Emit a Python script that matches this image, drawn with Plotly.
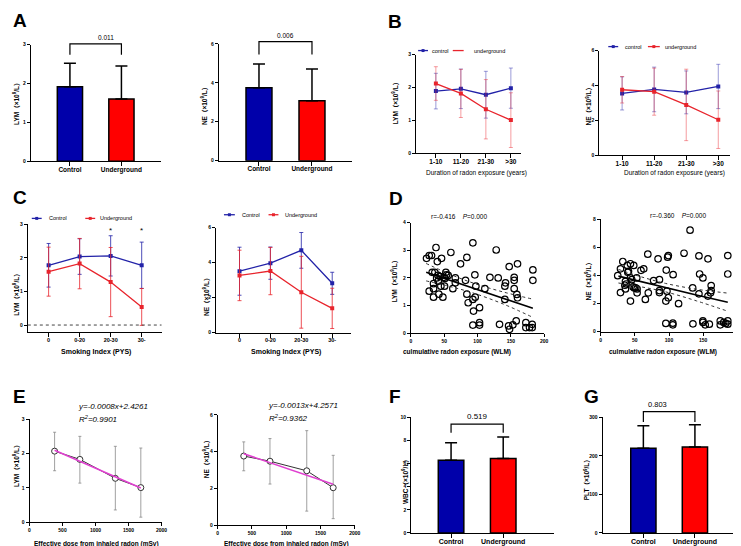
import numpy as np
import plotly.graph_objects as go

W, H = 741, 546
FONT = "Liberation Sans Narrow, Arial Narrow, Liberation Sans, Arial, Noto Sans CJK SC, sans-serif"
FONT_B = "Liberation Sans, Arial, sans-serif"

BAR_BLUE = "#0000AA"
BAR_RED = "#FF0000"
LN_BLUE = "#2222A8"
LN_RED = "#E8242C"
PINK = "#E040D0"

# ---------------- data ----------------
groups = ["Control", "Underground"]
a_lym_mean = [1.92, 1.60]
a_lym_sd = [0.60, 0.85]
a_lym_p = "0.011"
a_ne_mean = [3.75, 3.08]
a_ne_sd = [1.22, 1.63]
a_ne_p = "0.006"
f_wbc_mean = [6.30, 6.45]
f_wbc_sd = [1.50, 1.85]
f_wbc_p = "0.519"
g_plt_mean = [220, 223]
g_plt_sd = [58.5, 58.0]
g_plt_p = "0.803"

b_cats = ["1-10", "11-20", "21-30", ">30"]
b_lym_ctrl = [1.89, 1.96, 1.78, 1.98]
b_lym_ctrl_sd = [0.54, 0.60, 0.71, 0.61]
b_lym_ug = [2.12, 1.82, 1.34, 1.01]
b_lym_ug_sd = [0.51, 0.73, 0.90, 0.83]
b_ne_ctrl = [3.54, 3.77, 3.60, 3.94]
b_ne_ctrl_sd = [0.95, 1.28, 1.23, 1.27]
b_ne_ug = [3.75, 3.64, 2.88, 2.03]
b_ne_ug_sd = [0.76, 1.35, 2.05, 1.65]

c_cats = ["0", "0-20", "20-30", "30-"]
c_lym_ctrl = [1.78, 2.04, 2.06, 1.78]
c_lym_ctrl_sd = [0.65, 0.53, 0.60, 0.69]
c_lym_ug = [1.59, 1.83, 1.28, 0.54]
c_lym_ug_sd = [0.73, 0.75, 1.03, 0.55]
c_lym_sig = ["20-30", "30-"]
c_ne_ctrl = [3.51, 3.97, 4.70, 2.82]
c_ne_ctrl_sd = [1.37, 0.92, 1.02, 0.63]
c_ne_ug = [3.27, 3.52, 2.31, 1.39]
c_ne_ug_sd = [1.44, 1.35, 2.05, 1.15]
c_ne_sig = ["20-30"]

d_lym_x = [23.5, 27.5, 31, 37.7, 27.5, 34, 34, 34, 32, 36, 39.7, 46, 38.7, 41, 42, 45, 48,
           50.5, 49.5, 52.5, 53.5, 56, 60, 63, 66.7, 66.7, 74.5, 84, 82, 84, 86, 93, 93, 94,
           96.5, 96, 97.5, 93, 103, 103, 103, 111, 118.6, 128, 131, 133, 141, 142, 141,
           147.5, 146.6, 148, 153, 155, 155, 155, 158, 159, 160, 160, 172.5, 172.5, 178,
           182, 182, 183, 183, 40.7, 44, 51]
d_lym_y = [2.71, 2.81, 2.81, 3.10, 1.52, 1.30, 1.79, 1.61, 2.20, 2.20, 2.59, 2.71, 2.00,
           1.88, 1.41, 1.70, 1.30, 1.70, 2.02, 2.20, 2.11, 2.09, 2.92, 1.61, 2.00, 1.82,
           2.51, 2.74, 1.91, 1.41, 1.10, 3.27, 1.22, 0.80, 1.30, 2.11, 1.70, 0.29, 0.92,
           0.38, 0.29, 1.61, 2.02, 3.01, 2.00, 0.32, 1.22, 1.82, 1.70, 2.41, 0.26, 0.14,
           0.30, 2.02, 1.91, 1.61, 0.44, 1.40, 1.28, 2.51, 0.38, 0.20, 0.20, 0.20, 0.32,
           2.29, 1.91, 2.09, 2.05, 1.98]
d_lym_r = "r=-0.416"
d_lym_pv = "0.000"
d_lym_fit_x = [23, 60, 95, 140, 183]
d_lym_fit = [2.20, 1.90, 1.62, 1.26, 0.90]
d_lym_hi = [2.52, 2.12, 1.80, 1.48, 1.23]
d_lym_lo = [1.89, 1.68, 1.44, 1.04, 0.57]

d_ne_x = [25, 29, 29, 32.4, 36.3, 35.4, 37.3, 36.3, 39, 40.7, 39.7, 43.6, 43.6, 43.6, 45.5,
          47.5, 48.4, 49.4, 51.3, 53.3, 52.8, 53.3, 59, 63, 65.4, 69, 69.7, 77.5, 84, 86, 86,
          86, 96, 95.4, 97, 99, 98, 99, 95.4, 106, 105.6, 105.6, 114, 122, 130.8, 135,
          134.6, 143.8, 144.8, 149.6, 149.6, 153, 149.6, 143.8, 157, 157, 159, 160.8,
          161.7, 161.7, 175, 175, 180, 183, 186, 186, 186, 186]
d_ne_y = [3.99, 2.79, 4.48, 5.00, 3.05, 3.31, 3.40, 3.59, 4.72, 4.30, 4.23, 4.84, 2.18,
          3.83, 3.71, 3.19, 4.72, 3.12, 3.12, 3.05, 3.83, 2.77, 4.37, 4.48, 2.30, 5.52,
          2.77, 3.64, 5.19, 2.93, 2.79, 3.71, 4.39, 2.18, 2.89, 2.42, 5.31, 5.42, 0.59,
          4.06, 0.61, 0.49, 2.00, 5.59, 7.23, 0.56, 3.12, 5.40, 4.11, 3.83, 0.66, 0.49,
          0.77, 2.70, 5.19, 2.54, 0.54, 2.77, 3.29, 2.93, 0.77, 0.49, 0.66, 0.59, 5.42,
          4.11, 0.54, 0.77]
d_ne_r = "r=-0.360"
d_ne_pv = "0.000"
d_ne_fit_x = [26, 60, 95, 140, 186]
d_ne_fit = [3.96, 3.55, 3.14, 2.62, 2.10]
d_ne_hi = [4.44, 3.90, 3.44, 3.03, 2.75]
d_ne_lo = [3.47, 3.19, 2.84, 2.20, 1.46]

e_dose = [380, 763, 1300, 1686]
e_lym = [2.07, 1.83, 1.28, 1.01]
e_lym_up = [0.55, 0.67, 0.93, 1.15]
e_lym_dn = [0.57, 0.69, 0.92, 0.86]
e_lym_eq = "y=-0.0008x+2.4261"
e_lym_r2 = "0.9901"
e_ne = [3.76, 3.48, 2.96, 2.04]
e_ne_up = [0.77, 1.23, 2.18, 1.76]
e_ne_dn = [0.80, 1.24, 2.19, 1.68]
e_ne_eq = "y=-0.0013x+4.2571"
e_ne_r2 = "0.9362"

LYM_T = "LYM（×10<sup>9</sup>/L）"
NE_T = "NE（×10<sup>9</sup>/L）"

# ---------------- helpers ----------------
def xd(a, b):
    return [a / W, b / W]


def yd(top, bot):
    return [1 - bot / H, 1 - top / H]


def px(x):
    return x / W


def py(y):
    return 1 - y / H


layout = dict(width=W, height=H, margin=dict(l=0, r=0, t=0, b=0),
              paper_bgcolor="white", plot_bgcolor="white", showlegend=False,
              font=dict(family=FONT, color="black", size=6))
annotations = []
shapes = []
traces = []


def axis_common():
    return dict(showline=True, linecolor="black", linewidth=1, ticks="outside",
                ticklen=3, tickwidth=1, tickcolor="black", showgrid=False,
                zeroline=False, fixedrange=True)


def add_axes(i, xpx, ypx, xrange, yrange, ydtick, xcat=None, xdtick=None,
             xtickfont=6.5):
    xn = "xaxis" if i == 1 else f"xaxis{i}"
    yn = "yaxis" if i == 1 else f"yaxis{i}"
    xa = axis_common()
    xa.update(domain=xd(*xpx), range=xrange, anchor="y" if i == 1 else f"y{i}")
    if xcat is not None:
        xa.update(type="category", tickmode="array", tickvals=xcat, ticktext=xcat,
                  ticklen=4, ticklabelstandoff=-2,
                  tickfont=dict(size=xtickfont, family=FONT, weight="bold"))
    else:
        xa.update(dtick=xdtick, tick0=0,
                  tickfont=dict(size=5, family=FONT, weight="bold"))
    ya = axis_common()
    ya.update(domain=yd(*ypx), range=yrange, dtick=ydtick, tick0=0,
              anchor="x" if i == 1 else f"x{i}",
              tickfont=dict(size=5, family=FONT, weight="bold"))
    layout[xn] = xa
    layout[yn] = ya


def refs(i):
    return ("x" if i == 1 else f"x{i}"), ("y" if i == 1 else f"y{i}")


def to_paper(i, xv, yv):
    xa = layout["xaxis" if i == 1 else f"xaxis{i}"]
    ya = layout["yaxis" if i == 1 else f"yaxis{i}"]
    xf = (xv - xa["range"][0]) / (xa["range"][1] - xa["range"][0])
    yf = (yv - ya["range"][0]) / (ya["range"][1] - ya["range"][0])
    return (xa["domain"][0] + xf * (xa["domain"][1] - xa["domain"][0]),
            ya["domain"][0] + yf * (ya["domain"][1] - ya["domain"][0]))


def text(x, y, s, size=6, bold=False, italic=False, angle=0, xanchor="center",
         family=FONT):
    annotations.append(dict(x=px(x), y=py(y), xref="paper", yref="paper", text=s,
                            showarrow=False, textangle=angle, xanchor=xanchor,
                            yanchor="middle",
                            font=dict(size=size, family=family, color="black",
                                      weight="bold" if bold else "normal",
                                      style="italic" if italic else "normal")))


def bar_panel(i, means, sds, p, bracket_y, leg, p_size):
    xr, yr = refs(i)
    traces.append(go.Bar(x=groups, y=means, width=0.49, xaxis=xr, yaxis=yr,
                         marker=dict(color=[BAR_BLUE, BAR_RED],
                                     line=dict(color="black", width=1.5)),
                         error_y=dict(type="data", symmetric=False, array=sds,
                                      arrayminus=[0] * len(sds), color="black",
                                      thickness=1.5, width=6)))
    pts = [to_paper(i, 0, bracket_y - leg), to_paper(i, 0, bracket_y),
           to_paper(i, 1, bracket_y), to_paper(i, 1, bracket_y - leg)]
    path = "M " + " L ".join(f"{a:.5f},{b:.5f}" for a, b in pts)
    shapes.append(dict(type="path", xref="paper", yref="paper", path=path,
                       line=dict(color="black", width=1.2)))
    cx, cy = to_paper(i, 0.5, bracket_y)
    annotations.append(dict(x=cx, y=cy, xref="paper", yref="paper", text=p,
                            showarrow=False, yanchor="bottom", yshift=1,
                            font=dict(size=p_size, family=FONT_B, color="black")))


def line_panel(i, cats, ctrl, ctrl_sd, ug, ug_sd, err_alpha, sig=None, sig_y=None):
    xr, yr = refs(i)
    for vals, sd, col, rgb in [(ctrl, ctrl_sd, LN_BLUE, "34,34,168"),
                               (ug, ug_sd, LN_RED, "232,36,44")]:
        traces.append(go.Scatter(x=cats, y=vals, xaxis=xr, yaxis=yr, mode="lines+markers",
                                 line=dict(color=col, width=1.3),
                                 marker=dict(color=col, size=4, symbol="square"),
                                 error_y=dict(type="data", array=sd,
                                              color=f"rgba({rgb},{err_alpha})",
                                              thickness=1, width=2)))
    if sig:
        for c in sig:
            annotations.append(dict(x=c, y=sig_y, xref=xr, yref=yr, text="*",
                                    showarrow=False, font=dict(size=8, family=FONT_B)))


def legend_row(y, items, size=5.5):
    for (lx0, lx1, tx, label, col, marker) in items:
        shapes.append(dict(type="line", xref="paper", yref="paper", x0=px(lx0), x1=px(lx1),
                           y0=py(y), y1=py(y), line=dict(color=col, width=1.3)))
        if marker:
            m = (lx0 + lx1) / 2
            shapes.append(dict(type="rect", xref="paper", yref="paper",
                               x0=px(m - 1.5), x1=px(m + 1.5), y0=py(y + 1.5), y1=py(y - 1.5),
                               fillcolor=col, line=dict(width=0)))
        text(tx, y, label, size=size, xanchor="left")


# ---------------- panel A ----------------
add_axes(1, (22, 153), (34, 152), [-0.76, 1.76], [0, 3], 1, xcat=groups)
bar_panel(1, a_lym_mean, a_lym_sd, a_lym_p, 3.02, 0.28, 6.5)
add_axes(2, (211.7, 346), (33.3, 151.3), [-0.76, 1.75], [0, 6], 2, xcat=groups)
bar_panel(2, a_ne_mean, a_ne_sd, a_ne_p, 6.12, 0.66, 6.5)
text(7, 92, LYM_T, size=6.5, bold=True, angle=-90)
text(197, 95, NE_T, size=6.5, bold=True, angle=-90)

# ---------------- panel B ----------------
add_axes(3, (411, 517), (44, 144), [-0.79, 3.41], [0, 3], 1, xcat=b_cats, xtickfont=6.5)
line_panel(3, b_cats, b_lym_ctrl, b_lym_ctrl_sd, b_lym_ug, b_lym_ug_sd, 0.45)
add_axes(4, (596, 728), (40, 145.7), [-0.71, 3.37], [0, 6], 2, xcat=b_cats, xtickfont=6.5)
line_panel(4, b_cats, b_ne_ctrl, b_ne_ctrl_sd, b_ne_ug, b_ne_ug_sd, 0.45)
text(390, 92, LYM_T, size=6.5, bold=True, angle=-90)
text(585, 95, NE_T, size=6.5, bold=True, angle=-90)
text(472, 164, "Duration of radon exposure (years)", size=6.5)
text(672, 164, "Duration of radon exposure (years)", size=6.5)
legend_row(40, [(413, 423, 425, "control", LN_BLUE, True),
                (448, 459, 467, "underground", LN_RED, False)])
legend_row(36, [(605, 615, 620, "control", LN_BLUE, True),
                (645, 657, 660, "underground", LN_RED, True)])

# ---------------- panel C ----------------
add_axes(5, (19, 154), (215.7, 325), [-0.67, 3.64], [-0.22, 3], 1, xcat=c_cats, xtickfont=5.5)
shapes.append(dict(type="line", xref="x5 domain", yref="y5", x0=0, x1=1, y0=0, y1=0,
                   line=dict(color="#444", width=1, dash="dot")))
line_panel(5, c_cats, c_lym_ctrl, c_lym_ctrl_sd, c_lym_ug, c_lym_ug_sd, 0.8,
           sig=c_lym_sig, sig_y=2.82)
add_axes(6, (209, 345), (219, 325.3), [-0.76, 3.6], [0, 6], 2, xcat=c_cats, xtickfont=5.5)
line_panel(6, c_cats, c_ne_ctrl, c_ne_ctrl_sd, c_ne_ug, c_ne_ug_sd, 0.8,
           sig=c_ne_sig, sig_y=6.05)
text(7, 285, LYM_T, size=6.5, bold=True, angle=-90)
text(199, 288, NE_T, size=6.5, bold=True, angle=-90)
text(87.5, 345, "Smoking Index (PYS)", size=7, bold=True)
text(280, 345, "Smoking Index (PYS)", size=7, bold=True)
legend_row(209.7, [(23, 33, 38, "Control", LN_BLUE, True),
                   (77, 87, 90, "Underground", LN_RED, True)])
legend_row(206, [(217, 228, 233, "Control", LN_BLUE, True),
                 (262, 272, 277, "Underground", LN_RED, True)])

# ---------------- panel D ----------------
def scatter_panel(i, xs, ys, fx, fy, hi, lo):
    xr, yr = refs(i)
    traces.append(go.Scatter(x=xs, y=ys, xaxis=xr, yaxis=yr, mode="markers",
                             marker=dict(symbol="circle-open", size=6.5, color="black",
                                         line=dict(width=1.2, color="black"))))
    traces.append(go.Scatter(x=fx, y=fy, xaxis=xr, yaxis=yr, mode="lines",
                             line=dict(color="black", width=1.6)))
    for band in (hi, lo):
        traces.append(go.Scatter(x=fx, y=band, xaxis=xr, yaxis=yr, mode="lines",
                                 line=dict(color="#333", width=1, dash="dot",
                                           shape="spline")))


add_axes(7, (405.7, 540.3), (214, 325.7), [0, 200], [0, 4], 1, xdtick=50)
scatter_panel(7, d_lym_x, d_lym_y, d_lym_fit_x, d_lym_fit, d_lym_hi, d_lym_lo)
add_axes(8, (597.3, 735.3), (210.7, 324.3), [0, 200], [0, 8], 2, xdtick=50)
scatter_panel(8, d_ne_x, d_ne_y, d_ne_fit_x, d_ne_fit, d_ne_hi, d_ne_lo)
text(389, 272, LYM_T, size=6.5, bold=True, angle=-90)
text(585, 272, NE_T, size=6.5, bold=True, angle=-90)
text(454, 208, f"{d_lym_r}&nbsp;&nbsp;&nbsp;&nbsp;<i>P</i>={d_lym_pv}", size=6.5)
text(675, 207, f"{d_ne_r}&nbsp;&nbsp;&nbsp;&nbsp;<i>P</i>={d_ne_pv}", size=6.5)
text(452, 345, "culmulative radon exposure (WLM)", size=6.5, bold=True)
text(660, 345, "culmulative radon exposure (WLM)", size=6.5, bold=True)

# ---------------- panel E ----------------
def dose_panel(i, xs, ys, up, dn):
    xr, yr = refs(i)
    slope, icpt = np.polyfit(xs, ys, 1)
    xx = [min(xs), max(xs)]
    traces.append(go.Scatter(x=xs, y=ys, xaxis=xr, yaxis=yr, mode="lines+markers",
                             line=dict(color="#333", width=1),
                             marker=dict(symbol="circle", size=6, color="white",
                                         line=dict(color="#333", width=1)),
                             error_y=dict(type="data", symmetric=False, array=up,
                                          arrayminus=dn, color="#888", thickness=0.8,
                                          width=1.5)))
    traces.append(go.Scatter(x=xx, y=[slope * v + icpt for v in xx], xaxis=xr, yaxis=yr,
                             mode="lines", line=dict(color=PINK, width=1.5)))


add_axes(9, (20.7, 154), (412.7, 517), [0, 2000], [0, 3], 1, xdtick=500)
dose_panel(9, e_dose, e_lym, e_lym_up, e_lym_dn)
add_axes(10, (210.7, 349), (408.3, 520), [0, 2000], [0, 6], 2, xdtick=500)
dose_panel(10, e_dose, e_ne, e_ne_up, e_ne_dn)
text(7, 458, LYM_T, size=6.5, bold=True, angle=-90)
text(199, 452, NE_T, size=6.5, bold=True, angle=-90)
text(68, 400, e_lym_eq, size=8, italic=True, xanchor="left")
text(69, 413, f"R<sup>2</sup>={e_lym_r2}", size=8, italic=True, xanchor="left")
text(259, 399, e_ne_eq, size=8, italic=True, xanchor="left")
text(260, 412, f"R<sup>2</sup>={e_ne_r2}", size=8, italic=True, xanchor="left")
text(88, 539, "Effective dose from inhaled radon (mSv)", size=6.5, bold=True)
text(280, 539, "Effective dose from inhaled radon (mSv)", size=6.5, bold=True)

# ---------------- panel F / G ----------------
add_axes(11, (406, 550), (411, 527.7), [-0.765, 1.97], [0, 10], 2, xcat=groups, xtickfont=7)
bar_panel(11, f_wbc_mean, f_wbc_sd, f_wbc_p, 9.43, 0.75, 8)
add_axes(12, (599.3, 736.7), (411, 527.7), [-0.79, 1.85], [0, 300], 100, xcat=groups,
         xtickfont=7)
bar_panel(12, g_plt_mean, g_plt_sd, g_plt_p, 315, 27, 7.5)
text(400, 474, "WBC（×10<sup>9</sup>/L）", size=6.5, bold=True, angle=-90)
text(583, 472, "PLT（×10<sup>9</sup>/L）", size=6.5, bold=True, angle=-90)

# ---------------- panel letters ----------------
for letter, lx, ly in [("A", 2, 10), ("B", 381, 11), ("C", 2, 189), ("D", 382, 190),
                       ("E", 2, 390), ("F", 382, 390), ("G", 578, 390)]:
    text(lx, ly, letter, size=19, bold=True, xanchor="left", family=FONT_B)

layout["annotations"] = annotations
layout["shapes"] = shapes
fig = go.Figure(data=traces, layout=layout)
fig.write_html("out.html")
